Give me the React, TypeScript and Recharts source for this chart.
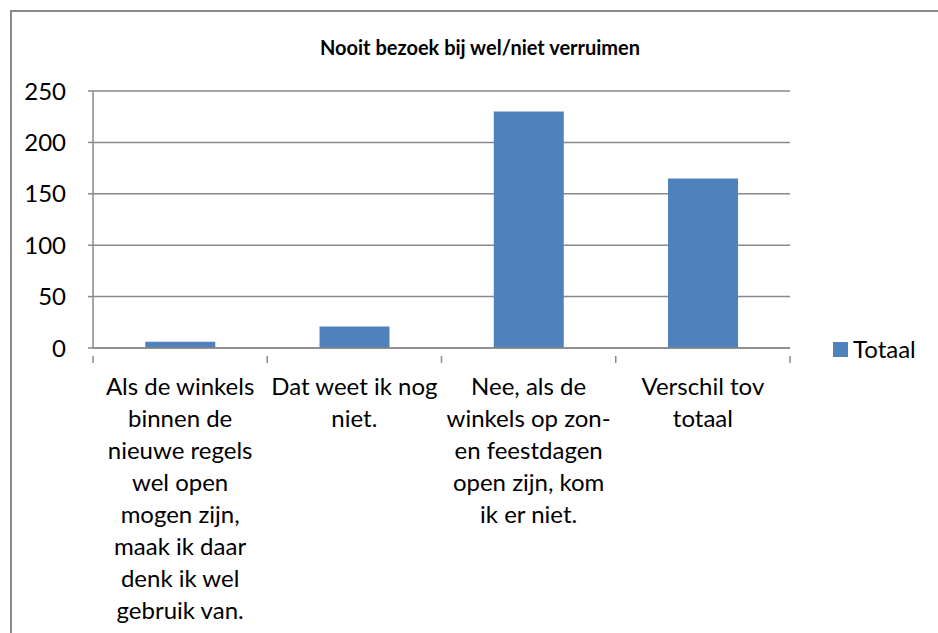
import React from 'react';
import { BarChart, Bar, XAxis, YAxis, CartesianGrid } from 'recharts';

// Nooit bezoek bij wel/niet verruimen

const CATEGORIES = [
  'Als de winkels\nbinnen de\nnieuwe regels\nwel open\nmogen zijn,\nmaak ik daar\ndenk ik wel\ngebruik van.',
  'Dat weet ik nog\nniet.',
  'Nee, als de\nwinkels op zon-\nen feestdagen\nopen zijn, kom\nik er niet.',
  'Verschil tov\ntotaal',
];
const TOTAAL = [6, 21, 230, 165];
const Y_TICKS = [0, 50, 100, 150, 200, 250];

const W = 938;
const H = 633;
const M = { top: 91, right: 148, left: 33, bottom: 0 };
const Y_W = 60;
const PLOT_W = W - M.left - Y_W - M.right;
const BAND = PLOT_W / CATEGORIES.length;
const FONT = 'Lato, Carlito, "Open Sans", sans-serif';
const GRID = '#898989';
const BLUE = '#4F81BD';

const data = CATEGORIES.map((name, i) => ({ name, Totaal: TOTAAL[i] }));

function CategoryTick(props: any) {
  const { x, y, payload, index } = props;
  const lines = String(payload.value).split('\n');
  const left = x - BAND / 2;
  return (
    <g>
      <line x1={left} x2={left} y1={y} y2={y + 7} stroke={GRID} strokeWidth={1.5} />
      {index === CATEGORIES.length - 1 && (
        <line x1={left + BAND} x2={left + BAND} y1={y} y2={y + 7} stroke={GRID} strokeWidth={1.5} />
      )}
      {lines.map((ln, i) => (
        <text key={i} x={x} y={y + 39 + i * 32} textAnchor="middle" fontSize={24} fill="#000" fontFamily={FONT}>
          {ln}
        </text>
      ))}
    </g>
  );
}

export default function App() {
  return (
    <div style={{ position: 'absolute', left: 0, top: 0, width: W, height: H, overflow: 'hidden', background: '#fff' }}>
      <div
        style={{
          position: 'absolute', left: 10, top: 10, width: W + 20, height: H + 20,
          border: `2px solid ${GRID}`, boxSizing: 'border-box',
        }}
      />
      <div
        style={{
          position: 'absolute', top: 35, left: 0, width: 960, textAlign: 'center', lineHeight: '24px',
          fontFamily: FONT, fontWeight: 700, fontSize: 20, color: '#000',
        }}
      >
        Nooit bezoek bij wel/niet verruimen
      </div>
      <div style={{ position: 'absolute', left: 0, top: 0 }}>
        <BarChart width={W} height={H} data={data} margin={M} barCategoryGap="30%">
          <CartesianGrid vertical={false} stroke={GRID} strokeWidth={1.5} />
          <XAxis
            dataKey="name"
            height={H - M.top - 257}
            interval={0}
            tickLine={false}
            axisLine={{ stroke: GRID, strokeWidth: 1.5 }}
            tick={<CategoryTick />}
          />
          <YAxis
            width={Y_W}
            domain={[0, 250]}
            ticks={Y_TICKS}
            tickSize={5}
            tickMargin={22}
            tickLine={{ stroke: GRID, strokeWidth: 1.5 }}
            axisLine={{ stroke: GRID, strokeWidth: 1.5 }}
            tick={{ fontSize: 24, fill: '#000', fontFamily: FONT }}
          />
          <Bar dataKey="Totaal" fill={BLUE} isAnimationActive={false} />
        </BarChart>
      </div>
      <div
        style={{
          position: 'absolute', left: 833, top: 336, display: 'flex', alignItems: 'center',
          fontFamily: FONT, fontSize: 24, color: '#000', lineHeight: '26px',
        }}
      >
        <span style={{ width: 15, height: 15, background: BLUE, display: 'inline-block', marginRight: 5 }} />
        Totaal
      </div>
    </div>
  );
}
